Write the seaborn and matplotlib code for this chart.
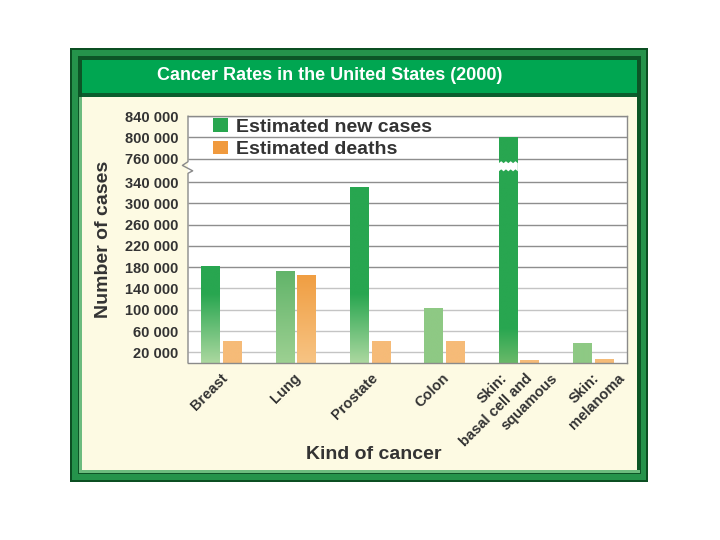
import numpy as np
import pandas as pd
import matplotlib
matplotlib.use("Agg")
import matplotlib.pyplot as plt
import matplotlib.transforms as mtransforms
from matplotlib.patches import Rectangle, Patch, Polygon
from matplotlib.lines import Line2D
import seaborn as sns

# Chart values
cancers = ["Breast", "Lung", "Prostate", "Colon",
           "Skin:\nbasal cell and\nsquamous", "Skin:\nmelanoma"]
new_cases = [182000, 172000, 330000, 103000, 800000, 37500]
deaths = [41000, 165000, 42000, 42000, 5000, 7500]
series = ["Estimated new cases", "Estimated deaths"]
tick_values = [20000, 60000, 100000, 140000, 180000, 220000, 260000,
               300000, 340000, 760000, 800000, 840000]

df = pd.DataFrame({
    "cancer": cancers * 2,
    "cases": new_cases + deaths,
    "measure": [series[0]] * len(cancers) + [series[1]] * len(cancers),
})

sns.set_style("white")
plt.rcParams["font.family"] = ["Liberation Sans", "DejaVu Sans"]
TXT = "#333333"

W, H = 720, 540
fig = plt.figure(figsize=(7.2, 5.4), dpi=100, facecolor="white")


def px_rect(x0, y0, x1, y1, color):
    fig.patches.append(Rectangle((x0 / W, 1 - y1 / H), (x1 - x0) / W, (y1 - y0) / H,
                                 transform=fig.transFigure, facecolor=color,
                                 edgecolor="none", zorder=-10))


# green frame, title band and cream panel
px_rect(70, 48, 648, 482, "#0b4f22")
px_rect(72, 50, 646, 480, "#25934b")
px_rect(78, 56, 641, 474, "#0c5526")
px_rect(79, 97, 82, 473, "#6cbb7e")
px_rect(79, 470, 640, 473, "#6cbb7e")
px_rect(82, 60, 637, 93, "#00a651")
px_rect(82, 93, 637, 97, "#0b5e2e")
px_rect(82, 97, 637, 470, "#fdfae3")
fig.text(330 / W, 1 - 76 / H, "Cancer Rates in the United States (2000)",
         color="white", fontsize=13, fontweight="bold", ha="center", va="center")

ax = fig.add_axes([188 / W, 1 - 363 / H, 439 / W, 247 / H])
ax.set_facecolor("white")

green, orange = "#28a64f", "#f09a3e"
sns.barplot(data=df, x="cancer", y="cases", hue="measure", palette=[green, orange],
            width=0.58, gap=0.12, saturation=1, linewidth=0, legend=False, ax=ax)

# broken value axis: 360 000 .. 740 000 squeezed into a thin gap
lo, hi, gap = 360000, 740000, 4000


def fwd(v):
    v = np.asarray(v, dtype=float)
    return np.where(v <= lo, v, np.where(v >= hi, v - (hi - lo) + gap,
                                         lo + (v - lo) * gap / (hi - lo)))


def inv(u):
    u = np.asarray(u, dtype=float)
    return np.where(u <= lo, u, np.where(u >= lo + gap, u + (hi - lo) - gap,
                                         lo + (u - lo) * (hi - lo) / gap))


ax.set_yscale("function", functions=(fwd, inv))
ax.set_ylim(0, 840000)
ax.set_xlim(-0.45, 5.45)
ax.set_yticks(tick_values, [f"{v:,}".replace(",", " ") for v in tick_values])
ax.yaxis.set_minor_locator(matplotlib.ticker.NullLocator())
ax.tick_params(axis="y", length=0, pad=7, labelsize=10.5, labelcolor=TXT)
for lab in ax.get_yticklabels():
    lab.set_fontweight("bold")

# grid lines
ax.hlines(tick_values, -0.45, 5.45,
          colors=["#c4c4c4" if v < 180000 else "#8e8e8e" for v in tick_values],
          linewidth=1, zorder=0.5)

# vertical shading of the bars
green_dark = np.array([40, 166, 80]) / 255
green_light = np.array([172, 216, 160]) / 255
green_mid = np.array([98, 180, 106]) / 255
green_soft = np.array([142, 201, 132]) / 255
orange_dark = np.array([240, 158, 66]) / 255
orange_light = np.array([247, 196, 132]) / 255
orange_soft = np.array([246, 187, 120]) / 255
shades = [
    [(green_dark, green_light, 130000), (green_mid, green_soft * 0.5 + green_light * 0.5, 172000),
     (green_dark, green_light, 130000), (green_soft, green_soft, 1),
     (green_dark, np.array([105, 185, 105]) / 255, 65000), (green_soft, green_soft, 1)],
    [(orange_soft, orange_soft, 1), (orange_dark, orange_light, 165000),
     (orange_soft, orange_soft, 1), (orange_soft, orange_soft, 1),
     (orange_soft, orange_soft, 1), (orange_soft, orange_soft, 1)],
]
to_ax = ax.transData + ax.transAxes.inverted()
to_data = ax.transAxes + ax.transData.inverted()
for container, styles in zip(ax.containers, shades):
    for patch, (top, bottom, fade) in zip(container.patches, styles):
        x0, w, h = patch.get_x(), patch.get_width(), patch.get_height()
        (ax0, ay0), (ax1, ay1) = to_ax.transform([(x0, 0), (x0 + w, h)])
        ys = np.linspace(ay0, ay1, 300)
        vals = to_data.transform(np.column_stack([np.full_like(ys, ax0), ys]))[:, 1]
        t = np.clip(vals / fade, 0, 1)[:, None]
        rgb = bottom + (top - bottom) * t
        im = ax.imshow(rgb[:, None, :], extent=(ax0, ax1, ay0, ay1), transform=ax.transAxes,
                       origin="lower", aspect="auto", interpolation="bilinear", zorder=1.5)
        im.set_clip_path(patch)

# white break across the tall skin bar
skin = ax.containers[0].patches[4]
bx0, bw = skin.get_x(), skin.get_width()
xs = np.linspace(bx0, bx0 + bw, 9)
amp = 0.004
top_edge = [(x, 0.813 + (amp if i % 2 else -amp)) for i, x in enumerate(xs)]
bot_edge = [(x, 0.780 + (amp if i % 2 else -amp)) for i, x in enumerate(xs)][::-1]
blend = mtransforms.blended_transform_factory(ax.transData, ax.transAxes)
ax.add_patch(Polygon(top_edge + bot_edge, closed=True, transform=blend,
                     facecolor="white", edgecolor="none", zorder=3))

# frame, with a zigzag on the left side at the break
for side in ["top", "right", "bottom"]:
    ax.spines[side].set_color("#8a8a8a")
    ax.spines[side].set_linewidth(1)
ax.spines["left"].set_visible(False)
ax.add_line(Line2D([0, 0, -0.0128, 0.0107, 0, 0], [1, 0.815, 0.800, 0.778, 0.768, 0],
                   transform=ax.transAxes, color="#8a8a8a", linewidth=1, clip_on=False))

# legend
handles = [Patch(facecolor=green, edgecolor="none"), Patch(facecolor=orange, edgecolor="none")]
ax.legend(handles, series, loc="upper left", bbox_to_anchor=(0.052, 1.0), frameon=False,
          prop={"size": 14, "weight": "bold"}, labelcolor=TXT, handlelength=0.8,
          handleheight=0.72, handletextpad=0.4, labelspacing=0.25, borderaxespad=0,
          borderpad=0.1)

# category labels: every line ends just under the axis, stepping right
ax.set_xticks(range(len(cancers)), [""] * len(cancers))
ax.tick_params(axis="x", length=0)
label_dx = [-1, -3, 0, -2.5, -19, -1.5]
line_step = 25
for i, name in enumerate(cancers):
    for k, line in enumerate(name.split("\n")):
        off = mtransforms.ScaledTranslation((label_dx[i] + k * line_step) / 100, -8 / 100,
                                            fig.dpi_scale_trans)
        ax.text(i, 0, line, transform=blend + off, rotation=45, ha="right", va="top",
                rotation_mode="anchor", fontsize=10.5, fontweight="bold", color=TXT)

ax.set_xlabel("Kind of cancer", fontsize=14, fontweight="bold", color=TXT)
ax.xaxis.set_label_coords(0.424, -0.338)
ax.set_ylabel("Number of cases", fontsize=14, fontweight="bold", color=TXT, labelpad=9)

ax.set_xlim(-0.45, 5.45)
ax.set_ylim(0, 840000)

fig.savefig("out.png", dpi=100, facecolor="white")
